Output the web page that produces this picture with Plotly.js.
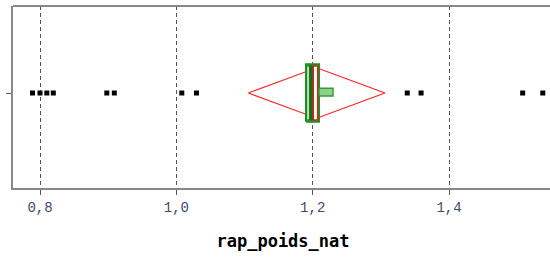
<!DOCTYPE html>
<html>
<head>
<meta charset="utf-8">
<script src="https://cdn.plot.ly/plotly-3.0.1.min.js"></script>
<style>html,body{margin:0;padding:0;background:#fff;overflow:hidden;width:550px;height:259px;}#chart{width:553px;height:259px;}</style>
</head>
<body>
<div id="chart"></div>
<script>
// Observed values of rap_poids_nat (points outside the central box)
const pointValues = [0.789, 0.800, 0.810, 0.8195, 0.898, 0.909, 1.008, 1.0296, 1.3387, 1.359, 1.508, 1.5375];
// Means diamond
const meanValue = 1.2058;
const ciLower = 1.1056;
const ciUpper = 1.3061;
// Quantile box (green) and its inner band
const boxLow = 1.1902;
const boxHigh = 1.2093;
const bandLow = 1.1950;
const bandHigh = 1.2009;
// Red rectangle (mean band)
const redLow = 1.2009;
const redHigh = 1.2074;
// Small green flag
const flagLow = 1.2093;
const flagHigh = 1.2298;
// Axis ticks
const tickValues = [0.8, 1.0, 1.2, 1.4];
const tickLabels = ['0,8', '1,0', '1,2', '1,4'];
const axisTitle = 'rap_poids_nat';

function rect(x0, x1, h, yc) {
  yc = yc || 0;
  return {x: [x0, x1, x1, x0, x0], y: [yc - h, yc - h, yc + h, yc + h, yc - h]};
}

const green = '#1f8f1f';
const traces = [];
// diamond
traces.push({
  type: 'scatter', mode: 'lines', hoverinfo: 'skip',
  x: [ciLower, meanValue, ciUpper, meanValue, ciLower],
  y: [0, 0.29, 0, -0.29, 0],
  line: {color: '#ff2020', width: 1.2}
});
// green box
const gb = rect(boxLow, boxHigh, 0.33);
traces.push({type: 'scatter', mode: 'lines', hoverinfo: 'skip', x: gb.x, y: gb.y,
  fill: 'toself', fillcolor: '#2f9f2f', line: {color: green, width: 2}});
const band = rect(boxLow + 0.0025, bandLow, 0.30);
traces.push({type: 'scatter', mode: 'lines', hoverinfo: 'skip', x: band.x, y: band.y,
  fill: 'toself', fillcolor: '#ffffff', line: {color: '#ffffff', width: 0.5}});
const band2 = rect(bandLow, bandHigh, 0.31);
traces.push({type: 'scatter', mode: 'lines', hoverinfo: 'skip', x: band2.x, y: band2.y,
  fill: 'toself', fillcolor: '#157015', line: {color: '#157015', width: 1}});
// red rect
const rr = rect(redLow, redHigh, 0.31);
traces.push({type: 'scatter', mode: 'lines', hoverinfo: 'skip', x: rr.x, y: rr.y,
  fill: 'toself', fillcolor: '#ffffff', line: {color: '#e02020', width: 1.5}});
// flag
const fl = rect(flagLow, flagHigh, 0.045, 0.01);
traces.push({type: 'scatter', mode: 'lines', hoverinfo: 'skip', x: fl.x, y: fl.y,
  fill: 'toself', fillcolor: '#8fcf8f', line: {color: '#2f9f2f', width: 1.5}});
// points
traces.push({
  type: 'scatter', mode: 'markers', hoverinfo: 'skip',
  x: pointValues, y: pointValues.map(() => 0),
  marker: {symbol: 'square', size: 5, color: '#000'}
});

const layout = {
  width: 553, height: 259,
  margin: {l: 13, r: 0, t: 6, b: 71, pad: 0},
  paper_bgcolor: '#fff', plot_bgcolor: '#fff',
  showlegend: false,
  xaxis: {
    range: [0.7604, 1.5525],
    tickmode: 'array', tickvals: tickValues, ticktext: tickLabels,
    ticks: 'outside', ticklen: 5, tickcolor: '#555', tickwidth: 1,
    tickfont: {family: 'Liberation Mono', size: 14, color: '#3c4a6a'},
    showgrid: true, gridcolor: '#555', gridwidth: 1, griddash: '4px,3px',
    showline: true, linecolor: '#888', linewidth: 2,
    zeroline: false,
    title: {text: axisTitle, standoff: 20,
      font: {family: 'DejaVu Sans Mono', size: 17, color: '#000', weight: 'bold'}}
  },
  yaxis: {
    range: [-1.092, 1],
    tickmode: 'array', tickvals: [0], ticktext: [''],
    ticks: 'outside', ticklen: 5, tickcolor: '#555',
    showgrid: false, zeroline: false,
    showline: true, linecolor: '#888', linewidth: 2
  },
  shapes: [{type: 'line', xref: 'paper', yref: 'paper', x0: 0, x1: 1, y0: 1, y1: 1,
    line: {color: '#888', width: 2}}]
};
Plotly.newPlot('chart', traces, layout, {staticPlot: true, displayModeBar: false});
</script>
</body>
</html>
